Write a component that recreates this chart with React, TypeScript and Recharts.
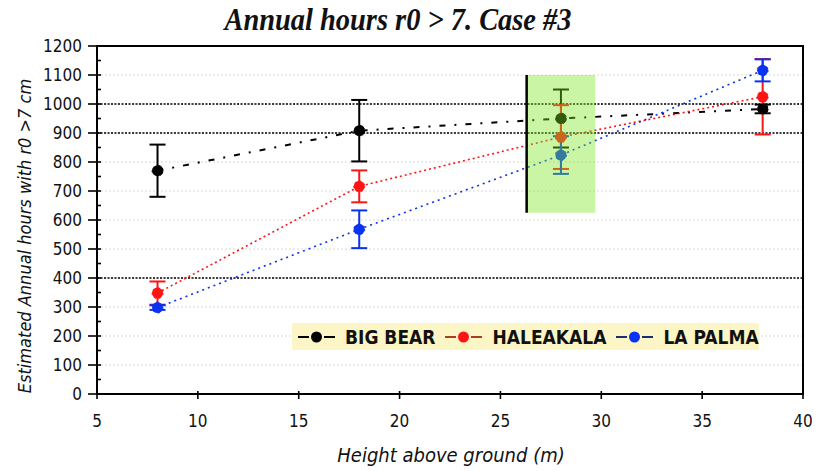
import React from 'react';
import {
  LineChart,
  Line,
  XAxis,
  YAxis,
  CartesianGrid,
  ReferenceLine,
  ReferenceArea,
  ErrorBar,
  Legend,
} from 'recharts';

// Measurement heights above ground (m)
const heights = [8, 18, 28, 38];

// Estimated annual hours with r0 > 7 cm, with their uncertainties
const bigBearHours = [770, 908, 950, 983];
const bigBearErr = [90, 106, 100, 15];
const haleakalaHours = [348, 716, 886, 1025];
const haleakalaErr = [40, 55, 110, 130];
const laPalmaHours = [298, 568, 824, 1116];
const laPalmaErr = [8, 65, 65, 38];

const siteNames = ['BIG BEAR', 'HALEAKALA', 'LA PALMA'];
const siteColors = ['#000000', '#ff1414', '#0a32f0'];
const legendLineColors = ['#000000', '#a8401c', '#1c2c70'];
const lineDashes = ['6 9 2 9', '2 3', '2 4'];

const xTicks = [5, 10, 15, 20, 25, 30, 35, 40];
const yTicks = [
  0, 50, 100, 150, 200, 250, 300, 350, 400, 450, 500, 550, 600, 650, 700, 750,
  800, 850, 900, 950, 1000, 1050, 1100, 1150, 1200,
];
const gridValues = [100, 200, 300, 400, 500, 600, 700, 800, 900, 1000, 1100, 1200];
const referenceLevels = [400, 900, 1000];

// Highlighted band around the 28 m measurement
const bandX1 = 26.3;
const bandX2 = 29.7;
const bandY1 = 625;
const bandY2 = 1100;

const TITLE = 'Annual hours r0 > 7. Case #3';
const X_TITLE = 'Height above ground (m)';
const Y_TITLE = 'Estimated Annual hours with r0 >7 cm';

const tickFont = "'DejaVu Sans Condensed', 'DejaVu Sans', sans-serif";

const makeSeries = (values: number[], errs: number[]) =>
  heights.map((h, i) => ({ x: h, y: values[i], err: errs[i] }));

const series = [
  makeSeries(bigBearHours, bigBearErr),
  makeSeries(haleakalaHours, haleakalaErr),
  makeSeries(laPalmaHours, laPalmaErr),
];

const YTick = (props: any) => {
  const { x, y, payload } = props;
  const v = payload.value as number;
  const major = v % 100 === 0;
  return (
    <g>
      <line x1={major ? x - 9 : x} x2={x + 4} y1={y} y2={y} stroke="#000" strokeWidth={1.6} />
      {major && (
        <text x={x - 15} y={y} dy={6} textAnchor="end" fontFamily={tickFont} fontSize={17} fill="#111">
          {v}
        </text>
      )}
    </g>
  );
};

const XTick = (props: any) => {
  const { x, y, payload } = props;
  return (
    <g>
      <line x1={x} x2={x} y1={y - 3} y2={y + 5} stroke="#000" strokeWidth={1.6} />
      <text x={x} y={y + 33} textAnchor="middle" fontFamily={tickFont} fontSize={17} fill="#111">
        {payload.value}
      </text>
    </g>
  );
};

const YTitle = (props: any) => {
  const { viewBox } = props;
  const cx = viewBox.x + 31;
  const cy = viewBox.y + viewBox.height / 2 + 16;
  return (
    <text
      x={cx}
      y={cy}
      transform={`rotate(-90 ${cx} ${cy})`}
      textAnchor="middle"
      fontFamily={tickFont}
      fontStyle="italic"
      fontSize={18}
      fill="#111"
    >
      {Y_TITLE}
    </text>
  );
};

const XTitle = (props: any) => {
  const { viewBox } = props;
  return (
    <text
      x={viewBox.x + viewBox.width / 2 + 1}
      y={viewBox.y + 68}
      textAnchor="middle"
      fontFamily={tickFont}
      fontStyle="italic"
      fontSize={20}
      fill="#111"
    >
      {X_TITLE}
    </text>
  );
};

const LegendBox = () => (
  <div
    style={{
      background: '#fcf6c6',
      height: 27,
      width: 467,
      display: 'flex',
      alignItems: 'center',
      paddingLeft: 5,
      boxSizing: 'border-box',
      fontFamily: tickFont,
      fontWeight: 'bold',
      fontSize: 19,
      color: '#111',
      whiteSpace: 'nowrap',
    }}
  >
    {siteNames.map((name, i) => (
      <div key={name} style={{ display: 'flex', alignItems: 'center', marginRight: 9 }}>
        <svg width={39} height={14} style={{ marginRight: 9 }}>
          <line x1={1} x2={12} y1={7} y2={7} stroke={legendLineColors[i]} strokeWidth={2} />
          <line x1={27} x2={38} y1={7} y2={7} stroke={legendLineColors[i]} strokeWidth={2} />
          <circle cx={19.5} cy={7} r={5.5} fill={siteColors[i]} />
        </svg>
        <span>{name}</span>
      </div>
    ))}
  </div>
);

export default function App() {
  return (
    <div style={{ position: 'absolute', left: 0, top: 0, width: 817, height: 471, background: '#fff' }}>
      <svg
        width={817}
        height={40}
        style={{ position: 'absolute', left: 0, top: 0, pointerEvents: 'none' }}
      >
        <text
          x={398}
          y={30}
          textAnchor="middle"
          fontFamily="'Liberation Serif', serif"
          fontWeight="bold"
          fontStyle="italic"
          fontSize={31}
          textLength={347}
          lengthAdjust="spacingAndGlyphs"
          fill="#111"
        >
          {TITLE}
        </text>
      </svg>
      <LineChart
        width={817}
        height={471}
        margin={{ top: 46, right: 14, bottom: 0, left: 0 }}
        style={{ position: 'absolute', left: 0, top: 0 }}
      >
        <CartesianGrid
          vertical={false}
          horizontalValues={gridValues}
          stroke="#d8d8d8"
          strokeDasharray="2 2"
        />
        {referenceLevels.map((lv) => (
          <ReferenceLine key={lv} y={lv} stroke="#000" strokeWidth={1.6} strokeDasharray="2 1.5" />
        ))}
        <XAxis
          type="number"
          dataKey="x"
          domain={[5, 40]}
          ticks={xTicks}
          allowDataOverflow
          height={77}
          tickSize={0}
          tickMargin={0}
          tickLine={false}
          tick={<XTick />}
          axisLine={{ stroke: '#000', strokeWidth: 2 }}
          label={<XTitle />}
        />
        <YAxis
          type="number"
          domain={[0, 1200]}
          ticks={yTicks}
          interval={0}
          width={97}
          tickSize={0}
          tickMargin={0}
          tickLine={false}
          tick={<YTick />}
          axisLine={{ stroke: '#000', strokeWidth: 2 }}
          label={<YTitle />}
        />
        <ReferenceArea x1={5} x2={40} y1={0} y2={1200} fill="none" stroke="#000" strokeWidth={2} />
        {series.map((data, i) => (
          <Line
            key={siteNames[i]}
            name={siteNames[i]}
            data={data}
            dataKey="y"
            type="linear"
            stroke={siteColors[i]}
            strokeWidth={i === 0 ? 2 : 1.6}
            strokeDasharray={lineDashes[i]}
            dot={{ r: 5.5, fill: siteColors[i], stroke: siteColors[i], strokeWidth: 1 }}
            activeDot={false}
            isAnimationActive={false}
          >
            <ErrorBar dataKey="err" direction="y" width={8} stroke={siteColors[i]} strokeWidth={2} />
          </Line>
        ))}
        <ReferenceArea
          x1={bandX1}
          x2={bandX2}
          y1={bandY1}
          y2={bandY2}
          fill="#78e61e"
          fillOpacity={0.4}
          stroke="none"
          zIndex={700}
        />
        <ReferenceLine
          segment={[
            { x: bandX1, y: bandY1 },
            { x: bandX1, y: bandY2 },
          ]}
          stroke="#000"
          strokeWidth={2.5}
          zIndex={700}
        />
        <Legend
          layout="horizontal"
          verticalAlign="middle"
          align="center"
          wrapperStyle={{ left: 292, top: 323, width: 467, height: 27 }}
          content={<LegendBox />}
        />
      </LineChart>
    </div>
  );
}
